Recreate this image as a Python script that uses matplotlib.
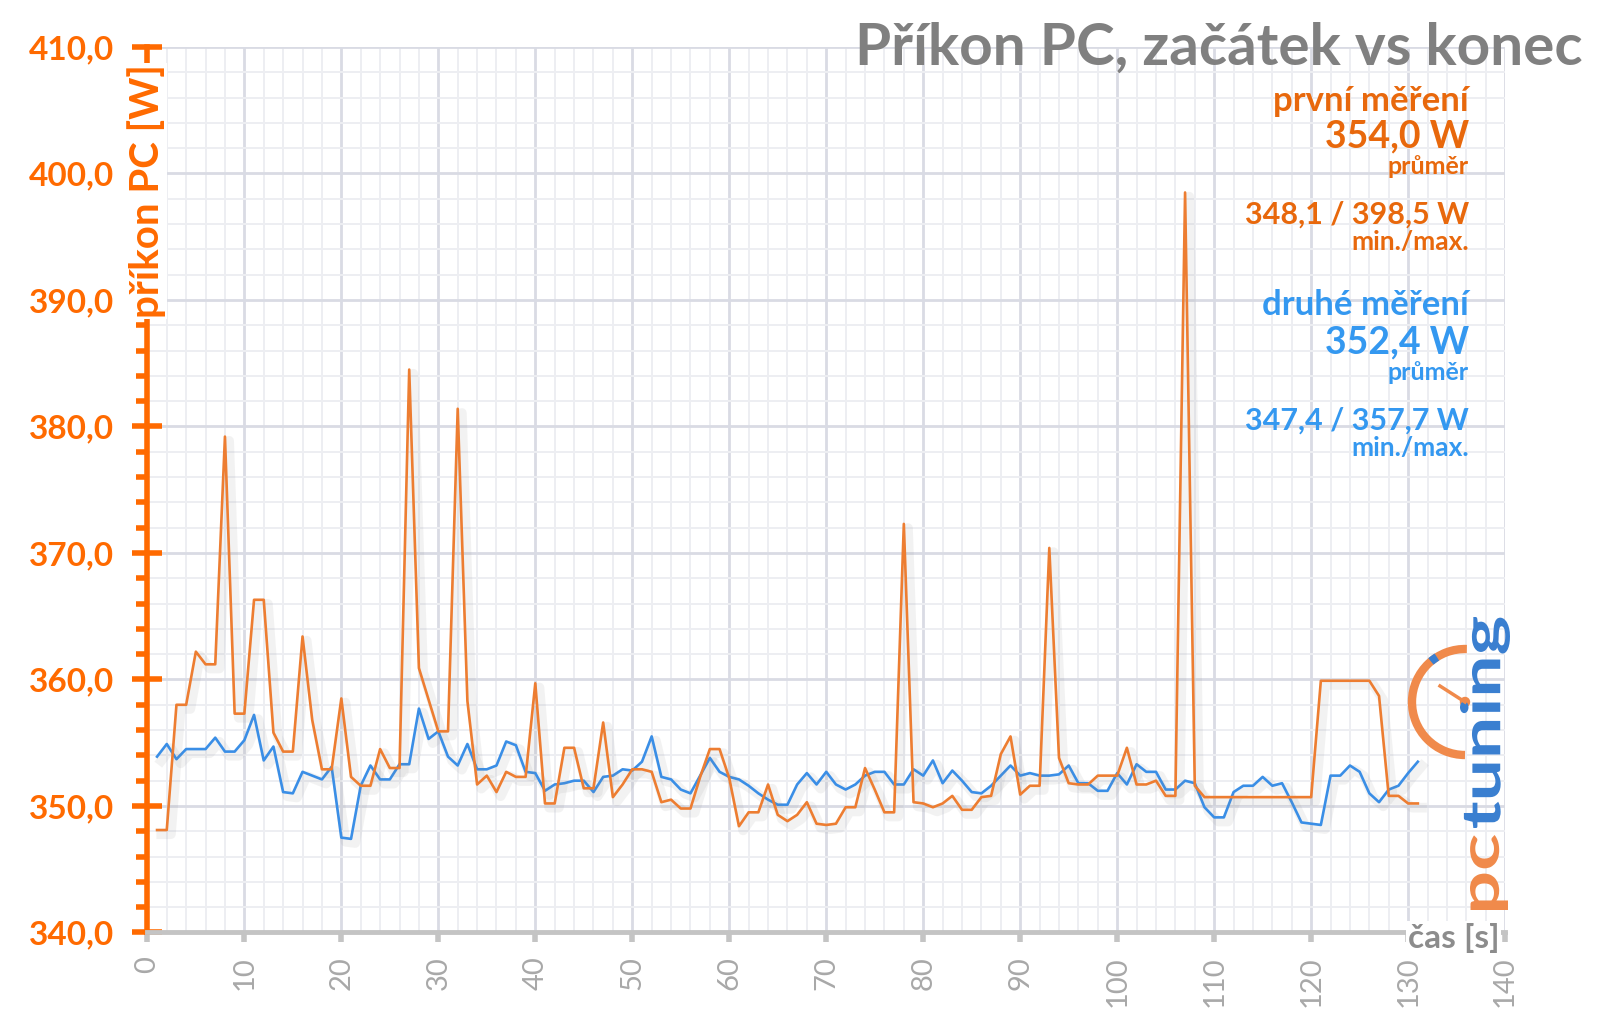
import matplotlib
matplotlib.use("Agg")
import matplotlib.pyplot as plt
import matplotlib.patheffects as pe
from matplotlib.patches import Arc, Circle, PathPatch
from matplotlib.ticker import MultipleLocator, FuncFormatter
from matplotlib.textpath import TextPath
from matplotlib.font_manager import FontProperties
from matplotlib.transforms import Affine2D

plt.rcParams['font.family'] = ['Lato', 'DejaVu Sans']

# cas [s]
seconds = list(range(1, 132))

# prvni mereni
first_run = [348.1, 348.1, 358.0, 358.0, 362.2, 361.2, 361.2, 379.2, 357.3, 357.3,
             366.3, 366.3, 355.8, 354.3, 354.3, 363.4, 356.8, 352.9, 352.9, 358.5,
             352.3, 351.6, 351.6, 354.5, 353.0, 353.0, 384.5, 360.9, 358.4, 355.9,
             355.9, 381.4, 358.3, 351.7, 352.4, 351.1, 352.7, 352.3, 352.3, 359.7,
             350.2, 350.2, 354.6, 354.6, 351.4, 351.4, 356.6, 350.7, 351.7, 352.9,
             352.9, 352.7, 350.3, 350.5, 349.8, 349.8, 352.3, 354.5, 354.5, 352.2,
             348.4, 349.5, 349.5, 351.7, 349.3, 348.8, 349.3, 350.3, 348.6, 348.5,
             348.6, 349.9, 349.9, 353.0, 351.3, 349.5, 349.5, 372.3, 350.3, 350.2,
             349.9, 350.2, 350.8, 349.7, 349.7, 350.7, 350.8, 354.1, 355.5, 350.9,
             351.6, 351.6, 370.4, 353.8, 351.8, 351.7, 351.7, 352.4, 352.4, 352.4,
             354.6, 351.7, 351.7, 352.0, 350.8, 350.8, 398.5, 351.6, 350.7, 350.7,
             350.7, 350.7, 350.7, 350.7, 350.7, 350.7, 350.7, 350.7, 350.7, 350.7,
             359.9, 359.9, 359.9, 359.9, 359.9, 359.9, 358.7, 350.8, 350.8, 350.2,
             350.2]

# druhe mereni
second_run = [353.9, 354.9, 353.7, 354.5, 354.5, 354.5, 355.4, 354.3, 354.3, 355.2,
              357.2, 353.6, 354.7, 351.1, 351.0, 352.7, 352.4, 352.1, 353.1, 347.5,
              347.4, 351.6, 353.2, 352.1, 352.1, 353.3, 353.3, 357.7, 355.3, 355.9,
              353.9, 353.2, 354.9, 352.9, 352.9, 353.2, 355.1, 354.8, 352.7, 352.6,
              351.2, 351.7, 351.8, 352.0, 352.0, 351.1, 352.3, 352.4, 352.9, 352.8,
              353.5, 355.5, 352.3, 352.1, 351.3, 351.0, 352.4, 353.8, 352.7, 352.3,
              352.1, 351.6, 351.0, 350.5, 350.1, 350.1, 351.7, 352.6, 351.7, 352.7,
              351.7, 351.3, 351.7, 352.4, 352.7, 352.7, 351.7, 351.7, 352.9, 352.4,
              353.6, 351.8, 352.8, 352.0, 351.1, 351.0, 351.6, 352.4, 353.2, 352.4,
              352.6, 352.4, 352.4, 352.5, 353.2, 351.8, 351.8, 351.2, 351.2, 352.6,
              351.7, 353.3, 352.7, 352.7, 351.3, 351.3, 352.0, 351.8, 349.9, 349.1,
              349.1, 351.1, 351.6, 351.6, 352.3, 351.6, 351.8, 350.3, 348.7, 348.6,
              348.5, 352.4, 352.4, 353.2, 352.7, 351.0, 350.3, 351.3, 351.6, 352.6,
              353.5]

ORANGE_LINE = '#ED7D31'
BLUE_LINE = '#3A8EE6'
ORANGE_TXT = '#E8680C'
BLUE_TXT = '#3498F0'
AXIS_ORANGE = '#FF6A00'
GRAY = '#808080'
LOGO_ORANGE = '#F08A4B'
LOGO_BLUE = '#3A7FD0'

fig = plt.figure(figsize=(16, 10.17), dpi=100)
ax = fig.add_axes([0.0921, 0.0831, 0.8486, 0.8707])

shadow = [pe.SimpleLineShadow(offset=(3, -3), shadow_color='#888888', alpha=0.10, linewidth=7),
          pe.Normal()]
ax.plot(seconds, second_run, color=BLUE_LINE, lw=1.9, path_effects=shadow, zorder=3)
ax.plot(seconds, first_run, color=ORANGE_LINE, lw=1.9, path_effects=shadow, zorder=4)

ax.set_xlim(0, 140)
ax.set_ylim(340, 410)
ax.xaxis.set_major_locator(MultipleLocator(10))
ax.xaxis.set_minor_locator(MultipleLocator(2))
ax.yaxis.set_major_locator(MultipleLocator(10))
ax.yaxis.set_minor_locator(MultipleLocator(2))
ax.yaxis.set_major_formatter(FuncFormatter(lambda v, p: f'{v:.1f}'.replace('.', ',')))

ax.grid(which='major', color='#D9DBE4', lw=2.0, zorder=0)
ax.grid(which='minor', color='#EDEEF2', lw=1.4, zorder=0)
ax.set_axisbelow(True)

for s in ['top', 'right']:
    ax.spines[s].set_visible(False)
ax.spines['left'].set_color(AXIS_ORANGE)
ax.spines['left'].set_linewidth(4)
ax.spines['bottom'].set_color('#C4C4C4')
ax.spines['bottom'].set_linewidth(3.5)

ax.tick_params(axis='y', which='major', direction='inout', length=22, width=4,
               color=AXIS_ORANGE, labelcolor=AXIS_ORANGE, labelsize=24, pad=13)
ax.tick_params(axis='y', which='minor', direction='out', length=8, width=4, color=AXIS_ORANGE)
for lab in ax.get_yticklabels():
    lab.set_fontweight('bold')
ax.tick_params(axis='x', which='major', direction='out', length=7, width=4, color='#C4C4C4',
               labelcolor='#A8A8A8', labelsize=21, labelrotation=90, pad=10)
ax.tick_params(axis='x', which='minor', length=0)

ax.text(-0.1, 398.6, 'příkon PC [W]', rotation=90, ha='center', va='center',
        color=AXIS_ORANGE, fontsize=29, fontweight='bold', clip_on=False, zorder=6,
        bbox=dict(fc='white', ec='none', pad=1))
ax.text(139.4, 339.6, 'čas [s]', ha='right', va='center', color='#8C8C8C',
        fontsize=24, fontweight='bold', clip_on=False, zorder=6,
        bbox=dict(fc='white', ec='none', pad=1))

fig.text(0.989, 1 - 48 / 1017, 'Příkon PC, začátek vs konec', ha='right', va='center',
         color=GRAY, fontsize=42, fontweight='bold')

xr = 1469 / 1600
def note(ypx, txt, color, size):
    fig.text(xr, 1 - ypx / 1017, txt, ha='right', va='center', color=color,
             fontsize=size, fontweight='bold')

note(101, 'první měření', ORANGE_TXT, 25)
note(136, '354,0 W', ORANGE_TXT, 27)
note(167, 'průměr', ORANGE_TXT, 18)
note(215, '348,1 / 398,5 W', ORANGE_TXT, 22)
note(242, 'min./max.', ORANGE_TXT, 19)
note(305, 'druhé měření', BLUE_TXT, 25)
note(342, '352,4 W', BLUE_TXT, 27)
note(372, 'průměr', BLUE_TXT, 18)
note(421, '347,4 / 357,7 W', BLUE_TXT, 22)
note(448, 'min./max.', BLUE_TXT, 19)

# pctuning logo (approximation): gauge + vertical stretched word
cx, cy = 14.65, (1017 - 702) / 100
fig.add_artist(Arc((cx, cy), 1.06, 1.06, theta1=88, theta2=270, color=LOGO_ORANGE, lw=6,
                   transform=fig.dpi_scale_trans))
fig.add_artist(Arc((cx, cy), 1.06, 1.06, theta1=122, theta2=130, color=LOGO_BLUE, lw=6,
                   transform=fig.dpi_scale_trans))
fig.add_artist(plt.Line2D([cx, cx - 0.25], [cy, cy + 0.16], color=LOGO_ORANGE, lw=2.5,
                          transform=fig.dpi_scale_trans))
fig.add_artist(Circle((cx, cy), 0.045, color=LOGO_ORANGE, transform=fig.dpi_scale_trans))

logo_font = FontProperties(family='Lato', weight='bold')
def logo_word(word, color, y0, y1, x0, x1):
    # place word reading bottom-to-top, stretched into the box (inches)
    tp = TextPath((0, 0), word, size=1, prop=logo_font)
    ext = tp.get_extents()
    tr = (Affine2D().translate(-ext.x0, -ext.y0)
          .scale((y1 - y0) / ext.width, (x1 - x0) / ext.height)
          .rotate_deg(90).translate(x1, y0))
    fig.add_artist(PathPatch(tp, fc=color, ec='none', transform=tr + fig.dpi_scale_trans))

logo_word('tuning', LOGO_BLUE, (1017 - 828) / 100, (1017 - 617) / 100, 14.60, 15.10)
logo_word('pc', LOGO_ORANGE, (1017 - 910) / 100, (1017 - 835) / 100, 14.70, 15.08)

fig.savefig('out.png', dpi=100)
